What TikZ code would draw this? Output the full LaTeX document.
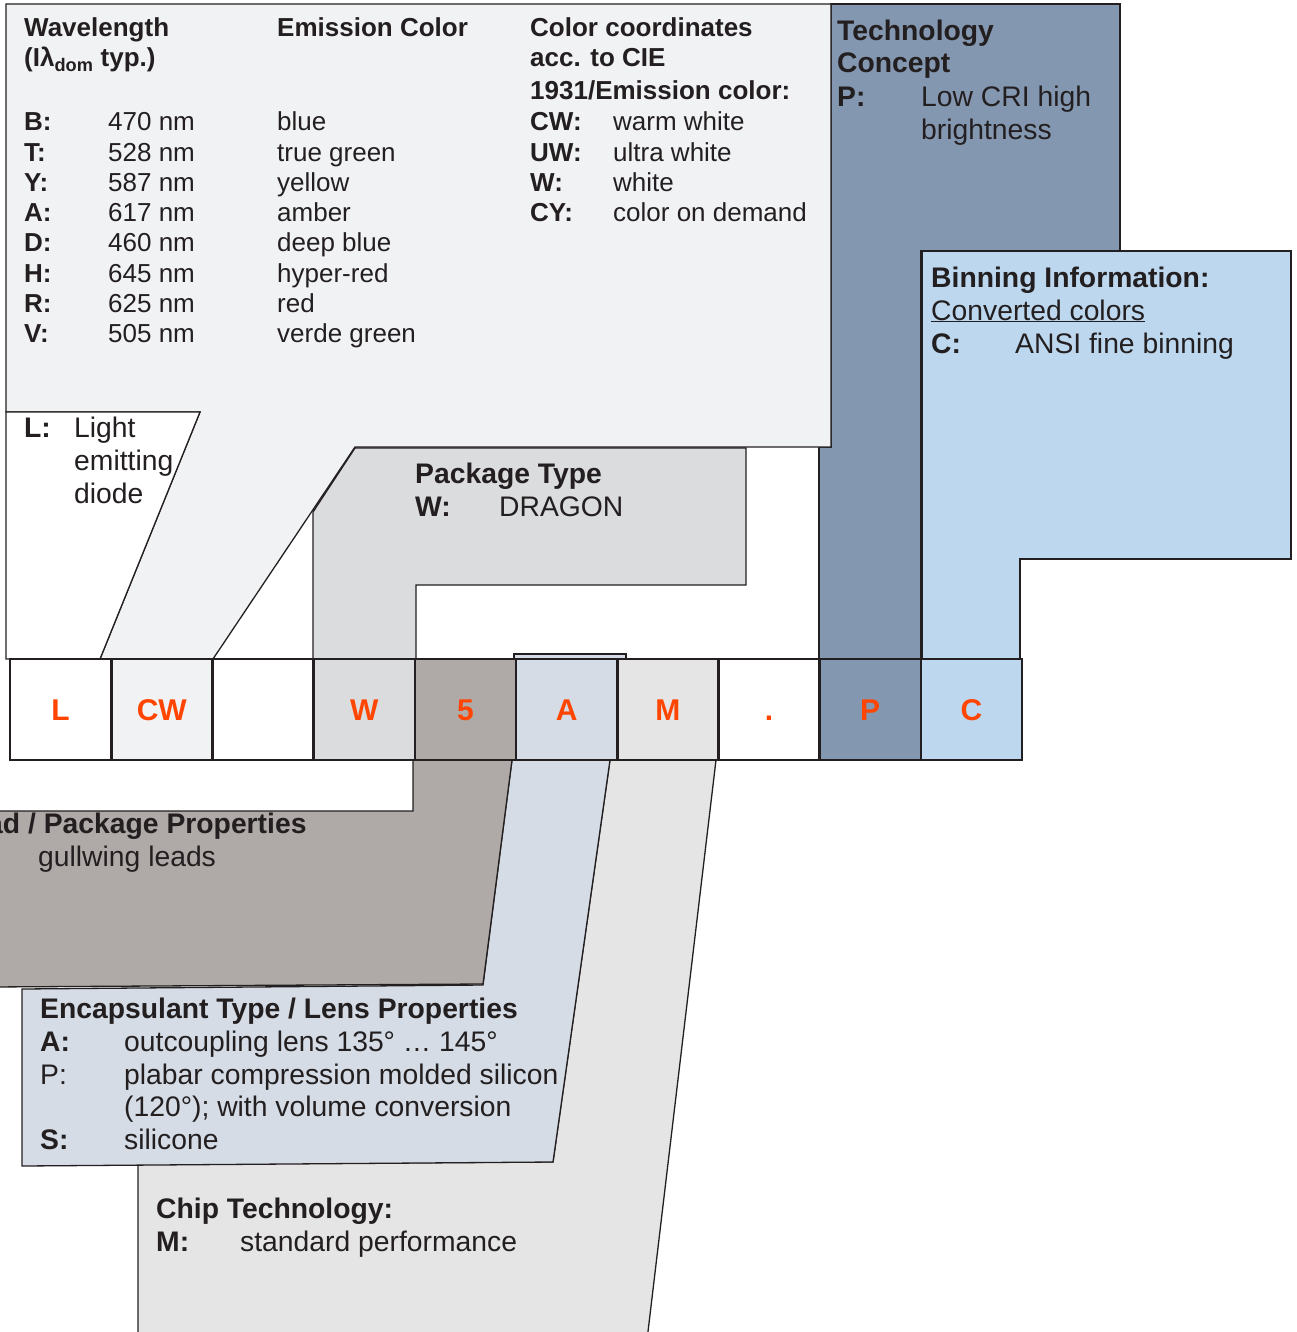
\documentclass[tikz,border=0pt]{standalone}
\usepackage{fontspec}
\setmainfont{Liberation Sans}
\definecolor{ink}{HTML}{231F20}
\definecolor{codecol}{HTML}{FF4500}
\definecolor{cwcol}{HTML}{F1F2F4}
\definecolor{pkgcol}{HTML}{DBDCDE}
\definecolor{leadcol}{HTML}{AFAAA8}
\definecolor{enccol}{HTML}{D5DCE5}
\definecolor{chipcol}{HTML}{E5E5E5}
\definecolor{techcol}{HTML}{8497B0}
\definecolor{bincol}{HTML}{BDD7EE}

\begin{document}
\begin{tikzpicture}[x=1pt, y=-1pt,
    area/.style={draw=ink, line width=1.3pt},
    txt/.style={anchor=base west, inner sep=0pt, text=ink, font=\fontsize{28.3}{33}\selectfont},
    txtb/.style={txt, font=\bfseries\fontsize{28.3}{33}\selectfont},
    tbl/.style={txt, font=\fontsize{26}{30}\selectfont},
    tblb/.style={txt, font=\bfseries\fontsize{26}{30}\selectfont},
    cell/.style={draw=ink, line width=2.6pt, minimum width=101.2pt, minimum height=101pt,
        inner sep=0pt, outer sep=0pt, text height=21pt, text depth=0pt, text=codecol,
        font=\bfseries\fontsize{30}{30}\selectfont}]
    \clip (0,0) rectangle (1297,1332);

    % upper areas
    \draw[area, fill=techcol] (831,4) -- (1120,4) -- (1120,251) -- (921,251) -- (921,659) -- (819,659) -- (819,447) -- (831,447) -- cycle;
    \draw[area, fill=cwcol] (6,4) -- (831,4) -- (831,447) -- (355,447) -- (213,659) -- (100,659) -- (200,412) -- (6,412) -- cycle;
    \draw[area, fill=white] (6,412) -- (200,412) -- (100,659) -- (6,659) -- cycle;
    \draw[area, fill=pkgcol] (355,448) -- (746,448) -- (746,585) -- (416,585) -- (416,659) -- (313,659) -- (313,512) -- cycle;
    \draw[area, fill=bincol] (922,251) -- (1291,251) -- (1291,559) -- (1020,559) -- (1020,659) -- (922,659) -- cycle;
    \draw[area, fill=enccol] (514,654) rectangle (626,660);

    % lower areas
    \draw[area, fill=chipcol] (610,760) -- (716,760) -- (647,1340) -- (138,1340) -- (138,1164) -- (553,1162) -- cycle;
    \draw[area, fill=enccol] (512,760) -- (610,760) -- (553,1162) -- (22,1166) -- (22,989) -- (483,985) -- cycle;
    \draw[area, fill=leadcol] (-10,811) -- (413,811) -- (413,760) -- (512,760) -- (483,984) -- (-10,987) -- cycle;

    % type code
    \foreach \t/\c [count=\i] in {L/white, CW/cwcol, /white, W/pkgcol, 5/leadcol, A/enccol, M/chipcol, ./white, P/techcol, C/bincol}
        \node[cell, fill=\c] (c\i) at ({10+101.2*(\i-0.5)},709.5) {\t};

    % wavelength / emission color
    \node[tblb] (wl) at (24,37) {Wavelength};
    \node[tblb] (wl2) at (24,67) {(Iλ\textsubscript{dom} typ.)};
    \node[tblb] (ec) at (277,37) {Emission Color};
    \foreach \k/\nm/\col [count=\i] in {B/470/blue, T/528/true green, Y/587/yellow, A/617/amber,
        D/460/deep blue, H/645/hyper-red, R/625/red, V/505/verde green} {
        \node[tblb] (k\i) at (24,{131+30.2*(\i-1)}) {\k:};
        \node[tbl] (nm\i) at (108,{131+30.2*(\i-1)}) {\nm~nm};
        \node[tbl] (col\i) at (277,{131+30.2*(\i-1)}) {\col};
    }
    \node[tblb] (cie1) at (530,37) {Color coordinates};
    \node[tblb] (cie2) at (530,67) {acc. to CIE};
    \node[tblb] (cie3) at (530,100) {1931/Emission color:};
    \foreach \k/\v [count=\i] in {CW/warm white, UW/ultra white, W/white, CY/color on demand} {
        \node[tblb] (ck\i) at (530,{131+30.2*(\i-1)}) {\k:};
        \node[tbl] (cv\i) at (613,{131+30.2*(\i-1)}) {\v};
    }

    % technology concept
    \node[txtb] (tc1) at (837,41) {Technology};
    \node[txtb] (tc2) at (837,73) {Concept};
    \node[txtb] (tck) at (837,107) {P:};
    \node[txt] (tcv1) at (921,107) {Low CRI high};
    \node[txt] (tcv2) at (921,140) {brightness};

    % binning
    \node[txtb] (bi1) at (931,287) {Binning Information:};
    \node[txt] (bi2) at (931,320) {\underline{Converted colors}};
    \node[txtb] (bik) at (931,353) {C:};
    \node[txt] (biv) at (1015,353) {ANSI fine binning};

    % light emitting diode
    \node[txtb] (lk) at (24,437) {L:};
    \node[txt] (lv1) at (74,437) {Light};
    \node[txt] (lv2) at (74,470) {emitting};
    \node[txt] (lv3) at (74,503) {diode};

    % package type
    \node[txtb] (pt) at (415,483) {Package Type};
    \node[txtb] (ptk) at (415,516) {W:};
    \node[txt] (ptv) at (499,516) {DRAGON};

    % lead / package properties
    \node[txtb] (lp) at (-46,833) {Lead / Package Properties};
    \node[txt] (lpv) at (38,866) {gullwing leads};

    % encapsulant
    \node[txtb] (en) at (40,1018) {Encapsulant Type / Lens Properties};
    \node[txtb] (enk1) at (40,1051) {A:};
    \node[txt] (env1) at (124,1051) {outcoupling lens 135° … 145°};
    \node[txt] (enk2) at (40,1084) {P:};
    \node[txt] (env2) at (124,1084) {plabar compression molded silicon};
    \node[txt] (env3) at (124,1116) {(120°); with volume conversion};
    \node[txtb] (enk3) at (40,1149) {S:};
    \node[txt] (env4) at (124,1149) {silicone};

    % chip technology
    \node[txtb] (ch) at (156,1218) {Chip Technology:};
    \node[txtb] (chk) at (156,1251) {M:};
    \node[txt] (chv) at (240,1251) {standard performance};
\end{tikzpicture}
\end{document}
